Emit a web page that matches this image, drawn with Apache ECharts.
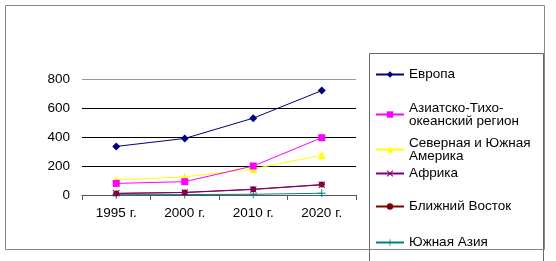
<!DOCTYPE html>
<html>
<head>
<meta charset="utf-8">
<script src="https://cdn.jsdelivr.net/npm/echarts@6/dist/echarts.min.js"></script>
<style>
  html, body { margin: 0; padding: 0; background: #fff; }
  #chart { width: 556px; height: 261px; }
</style>
</head>
<body>
<div id="chart"></div>
<script>
// данные графика
const years = ['1995 г.', '2000 г.', '2010 г.', '2020 г.']
const europe = [335, 390, 530, 720]
const asiaPacific = [80, 92, 200, 395]
const americas = [105, 125, 180, 275]
const africa = [12, 17, 38, 70]
const middleEast = [10, 18, 40, 72]
const southAsia = [2, 3, 5, 12]
const yTicks = [0, 200, 400, 600, 800]

const names = ['Европа', 'Азиатско-Тихо-\nокеанский регион', 'Северная и Южная\nАмерика', 'Африка', 'Ближний Восток', 'Южная Азия']
const values = [europe, asiaPacific, americas, africa, middleEast, southAsia]
const colors = ['#000080', '#ff00ff', '#ffff00', '#800080', '#800000', '#008080']

const cross = 'path://M0,1L1,0L5,4L9,0L10,1L6,5L10,9L9,10L5,6L1,10L0,9L4,5Z'
const plus = 'path://M4.4,0L5.6,0L5.6,4.4L10,4.4L10,5.6L5.6,5.6L5.6,10L4.4,10L4.4,5.6L0,5.6L0,4.4L4.4,4.4Z'
const symbols = ['diamond', 'rect', 'triangle', cross, 'circle', plus]
const symbolSizes = [8, 7, 8, 7, 6, 8]

// позиции маркеров легенды (центр значка)
const legendY = [64, 96, 131, 163, 196, 232]

const chart = echarts.init(document.getElementById('chart'))

const series = names.map((name, i) => ({
  name: name,
  type: 'line',
  data: values[i],
  symbol: symbols[i],
  symbolSize: symbolSizes[i],
  showAllSymbol: true,
  itemStyle: { color: colors[i] },
  lineStyle: { color: colors[i], width: 1 },
  z: 10 - i
}))

// отдельная легенда на каждую серию: текст сдвинут ниже значка, как в Excel
const legends = names.map((name, i) => {
  const lines = name.split('\n').length
  return {
    data: [name],
    left: 375,
    top: legendY[i] - 4,
    padding: 0,
    itemWidth: 28,
    itemHeight: 8,
    itemGap: 0,
    selectedMode: false,
    textStyle: {
      fontFamily: 'Liberation Sans, Arial, sans-serif',
      fontSize: 13.5,
      lineHeight: 13,
      color: '#000',
      padding: [lines > 1 ? 19 : 16, 0, 0, 0]
    }
  }
})

chart.setOption({
  backgroundColor: '#fff',
  animation: false,
  grid: { left: 82, right: 200, top: 79, bottom: 66 },
  xAxis: {
    type: 'category',
    data: years,
    boundaryGap: true,
    axisLine: { lineStyle: { color: '#555', width: 1 } },
    axisTick: { show: true, length: 5, lineStyle: { color: '#555' } },
    axisLabel: { color: '#000', fontSize: 13.5, margin: 11, fontFamily: 'Liberation Sans, Arial, sans-serif' }
  },
  yAxis: {
    type: 'value',
    min: yTicks[0],
    max: yTicks[yTicks.length - 1],
    interval: 200,
    axisLine: { show: false },
    axisTick: { show: false },
    axisLabel: { color: '#000', fontSize: 13.5, margin: 12, fontFamily: 'Liberation Sans, Arial, sans-serif' },
    splitLine: { lineStyle: { color: ['#000', '#000', '#000', '#000', '#999'], width: 1 } }
  },
  legend: legends,
  series: series,
  graphic: [
    { type: 'rect', shape: { x: 5.5, y: 5.5, width: 539, height: 244 }, style: { fill: null, stroke: '#888', lineWidth: 1 }, silent: true },
    { type: 'rect', shape: { x: 369.5, y: 53.5, width: 174, height: 210 }, style: { fill: '#fff', stroke: '#666', lineWidth: 1 }, z: -1, silent: true }
  ]
})
</script>
</body>
</html>
